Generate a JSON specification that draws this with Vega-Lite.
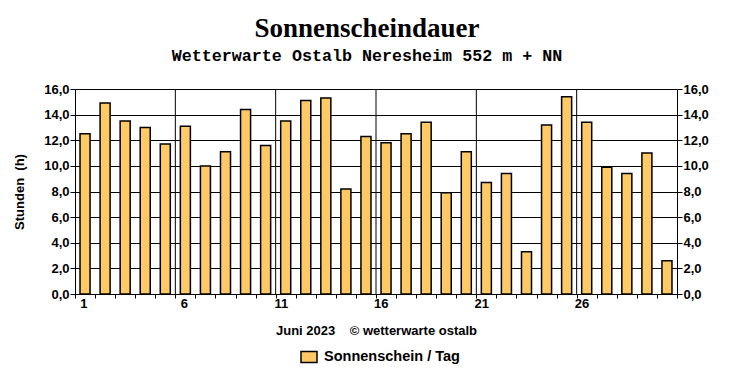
{
  "$schema": "https://vega.github.io/schema/vega-lite/v6.json",
  "width": 602,
  "height": 205,
  "autosize": {"type": "none"},
  "padding": {"left": 75, "top": 89, "right": 55, "bottom": 86},
  "background": "white",
  "title": {
    "text": "Sonnenscheindauer",
    "subtitle": "Wetterwarte Ostalb Neresheim 552 m + NN",
    "font": "Liberation Serif",
    "fontSize": 27,
    "fontWeight": "bold",
    "color": "black",
    "subtitleFont": "Liberation Mono",
    "subtitleFontSize": 16.7,
    "subtitleFontWeight": "bold",
    "subtitleColor": "black",
    "subtitlePadding": 5,
    "anchor": "middle",
    "frame": "group",
    "dx": -9,
    "offset": 17
  },
  "config": {
    "view": {"stroke": null},
    "axis": {
      "labelFont": "Liberation Sans",
      "labelFontWeight": "bold",
      "labelFontSize": 13,
      "labelColor": "black",
      "titleFont": "Liberation Sans",
      "titleFontWeight": "bold",
      "titleFontSize": 13,
      "titleColor": "black",
      "domainColor": "black",
      "tickColor": "black"
    }
  },
  "datasets": {
    "sun": [
      {"day": 1, "hours": 12.5}, {"day": 2, "hours": 14.9}, {"day": 3, "hours": 13.5},
      {"day": 4, "hours": 13.0}, {"day": 5, "hours": 11.7}, {"day": 6, "hours": 13.1},
      {"day": 7, "hours": 10.0}, {"day": 8, "hours": 11.1}, {"day": 9, "hours": 14.4},
      {"day": 10, "hours": 11.6}, {"day": 11, "hours": 13.5}, {"day": 12, "hours": 15.1},
      {"day": 13, "hours": 15.3}, {"day": 14, "hours": 8.2}, {"day": 15, "hours": 12.3},
      {"day": 16, "hours": 11.8}, {"day": 17, "hours": 12.5}, {"day": 18, "hours": 13.4},
      {"day": 19, "hours": 7.9}, {"day": 20, "hours": 11.1}, {"day": 21, "hours": 8.7},
      {"day": 22, "hours": 9.4}, {"day": 23, "hours": 3.3}, {"day": 24, "hours": 13.2},
      {"day": 25, "hours": 15.4}, {"day": 26, "hours": 13.4}, {"day": 27, "hours": 9.9},
      {"day": 28, "hours": 9.4}, {"day": 29, "hours": 11.0}, {"day": 30, "hours": 2.6}
    ],
    "weeks": [{"day": 6}, {"day": 11}, {"day": 16}, {"day": 21}, {"day": 26}]
  },
  "layer": [
    {
      "data": {"name": "weeks"},
      "mark": {"type": "rule", "color": "black", "strokeWidth": 1},
      "encoding": {
        "x": {"field": "day", "type": "ordinal", "bandPosition": 0}
      }
    },
    {
      "data": {"name": "sun"},
      "mark": {"type": "bar", "width": {"band": 0.5}, "stroke": "black", "strokeWidth": 1.5},
      "encoding": {
        "x": {
          "field": "day",
          "type": "ordinal",
          "scale": {"paddingInner": 0, "paddingOuter": 0},
          "axis": {
            "title": "Juni 2023\u00a0\u00a0\u00a0\u00a0©\u00a0wetterwarte ostalb",
            "titlePadding": 14,
            "labelAngle": 0,
            "tickBand": "extent",
            "tickSize": 4,
            "labelPadding": 5,
            "labelOffset": 2,
            "grid": false,
            "labelExpr": "(datum.value - 1) % 5 == 0 ? datum.label : ''"
          }
        },
        "y": {
          "field": "hours",
          "type": "quantitative",
          "scale": {"domain": [0, 16], "nice": false},
          "axis": {
            "title": "Stunden\u00a0\u00a0(h)",
            "titlePadding": 17,
            "values": [0, 2, 4, 6, 8, 10, 12, 14, 16],
            "tickSize": 5,
            "labelPadding": 1,
            "grid": true,
            "gridColor": "black",
            "gridOpacity": 1,
            "gridWidth": 1,
            "labelExpr": "replace(format(datum.value, '.1f'), '.', ',')"
          }
        },
        "color": {
          "datum": "Sonnenschein / Tag",
          "scale": {"range": ["#ffc966"]},
          "legend": {
            "title": null,
            "orient": "none",
            "legendX": 225,
            "legendY": 259,
            "symbolType": "M-1,-0.69L1,-0.69L1,0.69L-1,0.69Z",
            "symbolSize": 256,
            "symbolStrokeColor": "black",
            "symbolStrokeWidth": 1.5,
            "symbolOpacity": 1,
            "labelFont": "Liberation Sans",
            "labelFontWeight": "bold",
            "labelFontSize": 14.5,
            "labelColor": "black",
            "labelOffset": 6
          }
        }
      }
    },
    {
      "data": {"name": "sun"},
      "mark": {"type": "bar", "opacity": 0},
      "encoding": {
        "x": {"field": "day", "type": "ordinal"},
        "y": {
          "field": "hours",
          "type": "quantitative",
          "scale": {"domain": [0, 16], "nice": false},
          "axis": {
            "orient": "right",
            "title": null,
            "values": [0, 2, 4, 6, 8, 10, 12, 14, 16],
            "tickSize": 5,
            "labelPadding": 1,
            "grid": false,
            "labelExpr": "replace(format(datum.value, '.1f'), '.', ',')"
          }
        }
      }
    }
  ],
  "resolve": {"scale": {"y": "independent"}, "axis": {"y": "independent"}}
}
